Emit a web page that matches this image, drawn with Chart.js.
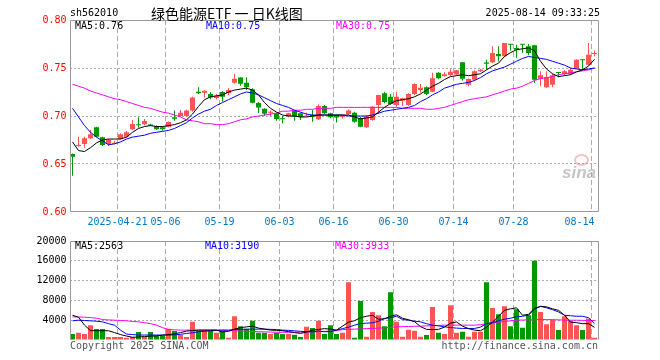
<!DOCTYPE html>
<html><head><meta charset="utf-8">
<script src="https://cdn.jsdelivr.net/npm/chart.js@4.4.0/dist/chart.umd.min.js"></script>
<style>
html,body{margin:0;padding:0;background:#fff;}
#wrap{position:relative;width:660px;height:360px;overflow:hidden;background:#fff;}
canvas{position:absolute;left:0;}
.t{position:absolute;font-family:"DejaVu Sans Mono",monospace;font-size:10px;line-height:12px;white-space:nowrap;color:#000;}
.cn{position:absolute;font-family:"Noto Sans CJK SC",sans-serif;font-size:14px;line-height:16px;white-space:pre;color:#000;}
</style></head><body>
<div id="wrap">
<canvas id="pc" width="660" height="232" style="top:0;width:660px;height:232px"></canvas>
<canvas id="vc" width="660" height="128" style="top:232px;width:660px;height:128px"></canvas>
<div class="t" style="left:70px;top:7px">sh562010</div>
<div class="cn" style="left:151px;top:5px">绿色能源ETF 一 日K线图</div>
<div class="t" style="right:60px;top:7px">2025-08-14 09:33:25</div>
<div class="t" style="left:75px;top:20px;color:#000">MA5:0.76</div>
<div class="t" style="left:206px;top:20px;color:#0000ff">MA10:0.75</div>
<div class="t" style="left:336px;top:20px;color:#ff00ff">MA30:0.75</div>
<div class="t" style="left:75px;top:240px;color:#000">MA5:2563</div>
<div class="t" style="left:205px;top:240px;color:#0000ff">MA10:3190</div>
<div class="t" style="left:335px;top:240px;color:#ff00ff">MA30:3933</div>
<div class="t" style="left:70px;top:340px;color:#555">Copyright 2025 SINA.COM</div>
<div class="t" style="right:62px;top:340px;color:#555">http://finance.sina.com.cn</div>
<div style="position:absolute;left:574px;top:154px;width:11px;height:8px;border:2px solid rgba(230,120,120,0.45);border-radius:50%;"></div>
<div style="position:absolute;left:562px;top:164px;font-family:'Liberation Sans',sans-serif;font-style:italic;font-weight:bold;font-size:17px;line-height:18px;color:rgba(150,150,150,0.55);">sina</div>
</div>
<script>
const dates = [
'2025-04-09','2025-04-10','2025-04-11','2025-04-14','2025-04-15','2025-04-16','2025-04-17','2025-04-18','2025-04-21','2025-04-22','2025-04-23','2025-04-24','2025-04-25','2025-04-28','2025-04-29','2025-04-30',
'2025-05-06','2025-05-07','2025-05-08','2025-05-09','2025-05-12','2025-05-13','2025-05-14','2025-05-15','2025-05-16','2025-05-19','2025-05-20','2025-05-21','2025-05-22','2025-05-23','2025-05-26','2025-05-27','2025-05-28','2025-05-29','2025-05-30',
'2025-06-03','2025-06-04','2025-06-05','2025-06-06','2025-06-09','2025-06-10','2025-06-11','2025-06-12','2025-06-13','2025-06-16','2025-06-17','2025-06-18','2025-06-19','2025-06-20','2025-06-23','2025-06-24','2025-06-25','2025-06-26','2025-06-27','2025-06-30',
'2025-07-01','2025-07-02','2025-07-03','2025-07-04','2025-07-07','2025-07-08','2025-07-09','2025-07-10','2025-07-11','2025-07-14','2025-07-15','2025-07-16','2025-07-17','2025-07-18','2025-07-21','2025-07-22','2025-07-23','2025-07-24','2025-07-25','2025-07-28','2025-07-29','2025-07-30','2025-07-31',
'2025-08-01','2025-08-04','2025-08-05','2025-08-06','2025-08-07','2025-08-08','2025-08-11','2025-08-12','2025-08-13','2025-08-14'];
const tickDates = ['2025-04-21','2025-05-06','2025-05-19','2025-06-03','2025-06-16','2025-06-30','2025-07-14','2025-07-28','2025-08-14'];
const tickLabels = ['2025-04-21','05-06','05-19','06-03','06-16','06-30','07-14','07-28','08-14'];

const opens = [.6604,.6688,.6708,.6767,.6882,.6778,.6708,.6712,.6760,.6785,
.6861,.6913,.6913,.6910,.6896,.6882,.6889,.6986,.7000,.7000,
.7056,.7253,.7243,.7229,.7188,.7250,.7236,.7347,.7400,.7347,
.7278,.7135,.7076,.7035,.7028,.6972,.7000,.7052,.7028,.6995,
.7010,.6965,.7104,.7028,.7010,.6990,.7021,.7035,.6976,.6882,
.6958,.7115,.7236,.7201,.7115,.7160,.7115,.7229,.7271,.7299,
.7253,.7451,.7417,.7427,.7431,.7559,.7326,.7378,.7465,.7556,
.7559,.7646,.7622,.7750,.7708,.7750,.7726,.7736,.7389,.7299,
.7326,.7458,.7438,.7438,.7493,.7587,.7535,.7646];
const highs = [.6610,.6785,.6785,.6854,.6889,.6785,.6764,.6743,.6819,.6844,
.6958,.6986,.6969,.6920,.6903,.6889,.6944,.7056,.7063,.7069,
.7201,.7299,.7271,.7250,.7229,.7257,.7288,.7441,.7403,.7403,
.7288,.7146,.7080,.7056,.7035,.7000,.7035,.7056,.7035,.7035,
.7062,.7122,.7115,.7035,.7015,.7010,.7069,.7045,.6990,.7010,
.7104,.7222,.7253,.7229,.7253,.7190,.7236,.7340,.7333,.7306,
.7451,.7455,.7455,.7490,.7480,.7562,.7390,.7476,.7493,.7587,
.7726,.7726,.7760,.7750,.7743,.7750,.7750,.7743,.7465,.7465,
.7440,.7458,.7480,.7500,.7590,.7590,.7760,.7681];
const lows = [.6378,.6680,.6670,.6760,.6778,.6688,.6687,.6705,.6757,.6778,
.6854,.6878,.6903,.6895,.6854,.6847,.6882,.6951,.6993,.6993,
.7045,.7229,.7194,.7174,.7174,.7149,.7219,.7336,.7316,.7271,
.7132,.7030,.7000,.7000,.6951,.6924,.6986,.6951,.6958,.6990,
.6941,.6958,.7021,.6976,.6931,.6975,.7010,.6930,.6882,.6875,
.6951,.7021,.7132,.7115,.7097,.7104,.7108,.7219,.7243,.7219,
.7247,.7382,.7410,.7417,.7425,.7370,.7309,.7361,.7458,.7483,
.7552,.7569,.7615,.7681,.7604,.7656,.7632,.7344,.7309,.7292,
.7300,.7403,.7420,.7430,.7490,.7483,.7528,.7622];
const closes = [.6576,.6695,.6767,.6809,.6785,.6698,.6750,.6722,.6809,.6830,
.6917,.6903,.6948,.6900,.6861,.6861,.6938,.6972,.7035,.7056,
.7194,.7236,.7264,.7194,.7212,.7201,.7271,.7389,.7336,.7299,
.7139,.7088,.7024,.7045,.6969,.6965,.7028,.6993,.6986,.7005,
.6993,.7104,.7028,.6986,.6985,.7003,.7056,.6941,.6889,.6997,
.7097,.7219,.7146,.7125,.7201,.7184,.7229,.7333,.7295,.7229,
.7392,.7392,.7434,.7462,.7476,.7389,.7385,.7465,.7483,.7545,
.7656,.7622,.7760,.7743,.7691,.7743,.7656,.7378,.7424,.7403,
.7424,.7448,.7465,.7483,.7587,.7580,.7639,.7656];

const ma5 = [.673,.664,.663,.667,.672,.675,.676,.676,.676,.678,
.683,.687,.689,.690,.689,.689,.690,.691,.693,.696,
.702,.710,.717,.720,.721,.722,.725,.727,.728,.729,
.727,.722,.714,.708,.704,.701,.700,.700,.699,.699,
.700,.701,.701,.701,.701,.701,.701,.699,.697,.698,
.699,.704,.709,.713,.716,.717,.718,.720,.723,.727,
.731,.734,.738,.741,.742,.743,.742,.743,.744,.748,
.752,.755,.762,.766,.769,.770,.771,.768,.757,.749,
.744,.741,.742,.743,.746,.748,.752,.759];
const ma10 = [.708,.699,.690,.683,.678,.674,.670,.671,.673,.676,
.678,.679,.680,.682,.683,.684,.685,.687,.690,.693,
.698,.702,.705,.707,.711,.714,.717,.720,.723,.725,
.724,.722,.719,.716,.713,.711,.709,.706,.704,.702,
.701,.701,.701,.701,.701,.701,.700,.700,.700,.700,
.701,.703,.705,.706,.707,.708,.709,.711,.715,.718,
.722,.725,.729,.731,.733,.734,.735,.737,.740,.744,
.747,.749,.751,.754,.757,.760,.762,.761,.760,.759,
.757,.755,.753,.750,.749,.748,.749,.750];
const ma30 = [.733,.731,.729,.726,.724,.722,.720,.718,.717,.715,
.713,.711,.709,.708,.706,.704,.703,.701,.699,.696,
.695,.694,.692,.692,.691,.691,.692,.694,.696,.697,
.699,.700,.701,.702,.703,.705,.705,.706,.706,.707,
.707,.708,.708,.708,.709,.709,.709,.709,.709,.709,
.709,.709,.709,.709,.709,.708,.708,.708,.708,.707,
.707,.708,.709,.711,.713,.715,.717,.718,.719,.720,
.722,.724,.726,.728,.729,.731,.734,.737,.739,.740,
.741,.743,.744,.745,.746,.747,.748,.750];

const volumes = [1200,1470,1200,3000,2200,2200,600,600,600,470,
600,1600,600,1600,930,870,2270,1800,1070,600,
3670,1870,2000,1870,1470,1870,470,4800,2800,2270,
3870,1470,1470,1200,1470,1200,1200,1070,600,2670,
2400,3870,1200,3000,1200,1470,11670,470,7870,670,
5670,5000,2800,9670,3670,670,2070,1870,670,1000,
6670,1470,1200,7000,1470,1670,670,1670,1670,11670,
6470,5200,6800,2800,6200,2470,5000,16000,5670,3200,
4130,2000,4800,3870,3000,2000,4330,470];
const vma5 = [5000,4600,3000,1900,1870,1870,1870,1500,1100,800,
550,600,700,780,820,980,1100,1250,1500,1800,
1900,2000,2000,2000,2000,1600,1750,2200,2500,2650,
2800,2400,2200,2000,1950,1870,1700,1500,1330,1600,
2000,2130,2300,2200,2000,2800,3600,3900,4500,4800,
5000,4200,4300,4800,5100,4400,4100,3700,2700,2150,
2100,2150,2600,3400,3650,2800,2300,2000,1870,2600,
3600,4800,6000,6300,6500,5000,5200,6400,6800,6700,
6300,6000,5000,3600,3500,3300,3300,2563];
const vma10 = [3870,4000,3950,3870,3800,3670,3300,3000,2000,1200,
1100,1000,1000,1000,1000,1000,1000,1050,1150,1330,
1450,1670,1750,1850,1930,2000,2000,2130,2150,2170,
2200,2200,2200,2150,2100,2000,1950,1850,1750,1670,
1670,1800,1670,1700,2000,2300,2600,3000,3330,3400,
3470,3800,4330,4500,4800,4130,4000,3800,3670,3300,
3000,2850,2670,2500,2400,2330,2330,2330,2600,3330,
3500,3870,4200,4400,4670,4800,5000,6200,6800,6500,
6130,5670,5000,4900,4800,4800,4500,3300];
const vma30 = [4670,4650,4600,4530,4400,4130,4050,4000,3950,3870,
3750,3670,3500,3300,3000,2500,2130,2050,2000,2000,
2000,2000,2000,2000,2000,2000,1900,1870,1830,1780,
1720,1670,1640,1600,1570,1550,1550,1560,1580,1600,
1650,1700,1750,1800,1900,2100,2150,2200,2250,2300,
2330,2400,2450,2550,2650,2700,2730,2770,2800,2850,
2900,2950,3000,3000,3000,3000,3000,3000,3100,3300,
3470,3600,3750,3870,4000,4030,4070,4100,4130,4130,
4100,4070,4030,4000,4000,3970,3950,3933];

const RED = '#ff5454', GREEN = '#009a00';
const dirColor = ctx => (closes[ctx.dataIndex] >= opens[ctx.dataIndex] ? RED : GREEN);
const MONO = 'DejaVu Sans Mono';
const vGrid = ctx => (tickDates.indexOf(dates[ctx.index]) >= 0 ? '#aaaaaa' : 'rgba(0,0,0,0)');

function framePlugin(drawBottom) {
  return {
    id: 'frame',
    afterDraw(chart) {
      const c = chart.ctx, a = chart.chartArea;
      const L = Math.round(a.left) + 0.5, R = Math.round(a.right) + 0.5;
      const T = Math.round(a.top) + 0.5, B = Math.round(a.bottom) - 0.5;
      c.save();
      c.strokeStyle = '#999999'; c.lineWidth = 1; c.setLineDash([]);
      c.beginPath();
      c.moveTo(L, B); c.lineTo(L, T); c.lineTo(R, T); c.lineTo(R, B);
      if (drawBottom) c.lineTo(L, B);
      c.stroke();
      c.restore();
    }
  };
}

function lineDs(data, color) {
  return { type: 'line', data, borderColor: color, borderWidth: 1, pointRadius: 0,
    pointHoverRadius: 0, tension: 0, fill: false, order: 0 };
}

new Chart(document.getElementById('pc'), {
  type: 'bar',
  data: {
    labels: dates,
    datasets: [
      lineDs(ma5, '#000000'),
      lineDs(ma10, '#0000ff'),
      lineDs(ma30, '#ff00ff'),
      { data: opens.map((o, i) => [o, closes[i]]), backgroundColor: dirColor,
        barThickness: 5, grouped: false, minBarLength: 1, inflateAmount: 0, borderWidth: 0, order: 1 },
      { data: lows.map((l, i) => [l, highs[i]]), backgroundColor: dirColor,
        barThickness: 1, grouped: false, minBarLength: 1, inflateAmount: 0, borderWidth: 0, order: 2 }
    ]
  },
  options: {
    responsive: false, animation: false, devicePixelRatio: 1, events: [],
    layout: { padding: { top: 20, right: 62.5, left: 0, bottom: 0 } },
    plugins: { legend: { display: false }, tooltip: { enabled: false }, title: { display: false } },
    scales: {
      x: {
        type: 'category', offset: true,
        grid: { offset: true, color: vGrid, lineWidth: 1, drawTicks: false },
        border: { display: false, dash: [5, 3] },
        ticks: { autoSkip: false, maxRotation: 0, minRotation: 0, padding: 4, labelOffset: -3,
          color: '#0077cc', font: { family: MONO, size: 10 },
          callback: (v, i) => {
            const j = tickDates.indexOf(dates[i]);
            if (j < 0) return '';
            return j === tickLabels.length - 1 ? tickLabels[j] + '    ' : tickLabels[j];
          } },
        afterFit: s => { s.height = 20; }
      },
      y: {
        min: 0.6, max: 0.8,
        ticks: { stepSize: 0.05, color: '#ff0000', padding: 3, font: { family: MONO, size: 10 },
          callback: v => Number(v).toFixed(2) },
        grid: { drawTicks: false, lineWidth: 1,
          color: ctx => { const v = ctx.tick ? ctx.tick.value : 0; return (v > 0.601 && v < 0.799) ? '#aaaaaa' : 'rgba(0,0,0,0)'; } },
        border: { display: false, dash: [2, 2] },
        afterFit: s => { s.width = 69.5; }
      }
    }
  },
  plugins: [framePlugin(true)]
});

new Chart(document.getElementById('vc'), {
  type: 'bar',
  data: {
    labels: dates,
    datasets: [
      lineDs(vma5, '#000000'),
      lineDs(vma10, '#0000ff'),
      lineDs(vma30, '#ff00ff'),
      { data: volumes, backgroundColor: dirColor, barThickness: 5, grouped: false,
        inflateAmount: 0, borderWidth: 0, order: 1 }
    ]
  },
  options: {
    responsive: false, animation: false, devicePixelRatio: 1, events: [],
    layout: { padding: { top: 8, right: 62.5, left: 0, bottom: 0 } },
    plugins: { legend: { display: false }, tooltip: { enabled: false } },
    scales: {
      x: {
        type: 'category', offset: true,
        grid: { offset: true, color: vGrid, lineWidth: 1, drawTicks: false },
        border: { display: false, dash: [5, 3] },
        ticks: { display: false },
        afterFit: s => { s.height = 20; }
      },
      y: {
        min: 0, max: 20000,
        ticks: { stepSize: 4000, color: '#000000', padding: 3, font: { family: MONO, size: 10 },
          callback: v => (v === 0 ? '' : String(v)) },
        grid: { drawTicks: false, lineWidth: 1,
          color: ctx => { const v = ctx.tick ? ctx.tick.value : 0; return (v > 0 && v < 20000) ? '#aaaaaa' : 'rgba(0,0,0,0)'; } },
        border: { display: false, dash: [2, 2] },
        afterFit: s => { s.width = 69.5; }
      }
    }
  },
  plugins: [framePlugin(false)]
});
</script>
</body></html>
